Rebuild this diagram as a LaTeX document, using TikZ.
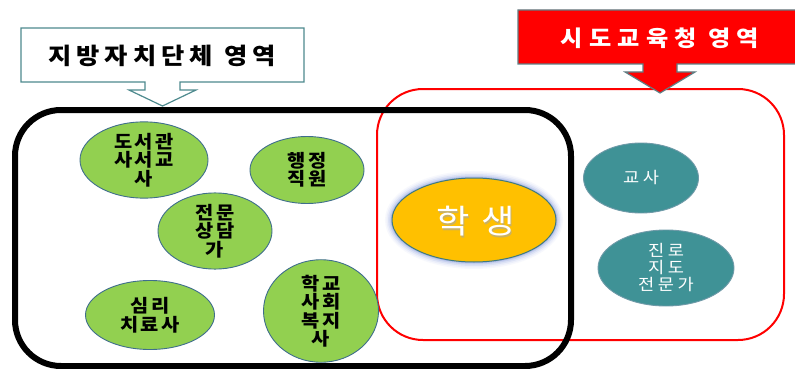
\documentclass[tikz,border=0pt]{standalone}
\usepackage{fontspec}
\newfontfamily\kr[FakeStretch=1.1]{Noto Sans CJK KR}
\usetikzlibrary{shapes.geometric}
\definecolor{grn}{HTML}{92D050}
\definecolor{grnb}{HTML}{3F6E8C}
\definecolor{tl}{HTML}{3F9296}
\definecolor{tlb}{HTML}{6F9AA8}
\definecolor{gold}{HTML}{FFC000}
\definecolor{goldb}{HTML}{3F7A80}
\definecolor{callb}{HTML}{4E8A8E}
\definecolor{redb}{HTML}{5F7F85}
\definecolor{glow}{HTML}{6F86D8}
\tikzset{
  greenell/.style={ellipse, fill=grn, draw=grnb, line width=0.9pt, inner sep=0pt,
    align=center, font=\kr\bfseries\addfontfeature{LetterSpace=12}\fontsize{18}{18.5}\selectfont, text=black},
  tealell/.style={ellipse, fill=tl, draw=tlb, line width=0.9pt, inner sep=0pt,
    align=center, font=\kr\addfontfeature{LetterSpace=22}\fontsize{16}{17}\selectfont, text=white},
}
\begin{document}
\begin{tikzpicture}[x=1pt,y=-1pt]
\useasboundingbox (0,0) rectangle (795,369);
\fill[white] (0,0) rectangle (795,369);

% red region
\draw[red, line width=2pt, rounded corners=46pt] (377,89) rectangle (784,340);
% black region
\draw[black, line width=6pt, rounded corners=46pt] (15,110) rectangle (571,366);

% left callout
\draw[callb, line width=1.2pt, fill=white]
  (21,28) -- (304,28) -- (304,82) -- (180,82) -- (180,90) -- (196,90) -- (162.5,106)
  -- (129,90) -- (145,90) -- (145,82) -- (21,82) -- cycle;
\node[font=\kr\bfseries\addfontfeature{LetterSpace=22}\fontsize{23}{25}\selectfont, text=black] (ltitle) at (162,56) {지방자치단체 영역};

% red callout
\draw[redb, line width=1.2pt, fill=red]
  (518,10) -- (800,10) -- (800,64) -- (677,64) -- (677,72) -- (695,72) -- (660,93)
  -- (625,72) -- (643,72) -- (643,64) -- (518,64) -- cycle;
\node[font=\kr\bfseries\addfontfeature{LetterSpace=28}\fontsize{22}{24}\selectfont, text=white] (rtitle) at (660,38) {시도교육청 영역};

% green ellipses
\node[greenell, minimum width=128pt, minimum height=70pt] (lib) at (144,160) {도서관\\사서교\\사};
\node[greenell, minimum width=114pt, minimum height=67pt] (adm) at (307,170) {행정\\직원};
\node[greenell, minimum width=114pt, minimum height=70pt] (cns) at (215,231) {전문\\상담\\가};
\node[greenell, minimum width=129pt, minimum height=69pt] (psy) at (150,315) {심리\\치료사};
\node[greenell, minimum width=115pt, minimum height=69pt] (scw) at (321,311) {학교\\사회\\복지\\사};

% teal ellipses
\node[tealell, minimum width=115pt, minimum height=70pt] (tch) at (641,178) {교사};
\node[tealell, minimum width=136pt, minimum height=76pt] (car) at (666,268) {진로\\지도\\전문가};

% student with glow
\foreach \w/\o in {14/0.05, 11/0.08, 8/0.12, 5/0.18, 2.5/0.3}{
  \draw[glow, line width=\w pt, opacity=\o] (474,220) ellipse [x radius=82, y radius=42];
}
\node[ellipse, fill=gold, draw=goldb, line width=1pt, minimum width=164pt, minimum height=84pt, inner sep=0pt] (stu) at (474,220) {};
\node[font=\kr\addfontfeature{LetterSpace=35}\fontsize{33}{35}\selectfont, text=gray!70, opacity=0.6] (stush) at (477,223) {학생};
\node[font=\kr\addfontfeature{LetterSpace=35}\fontsize{33}{35}\selectfont, text=white] (stut) at (475.5,221.5) {학생};
\end{tikzpicture}
\end{document}
